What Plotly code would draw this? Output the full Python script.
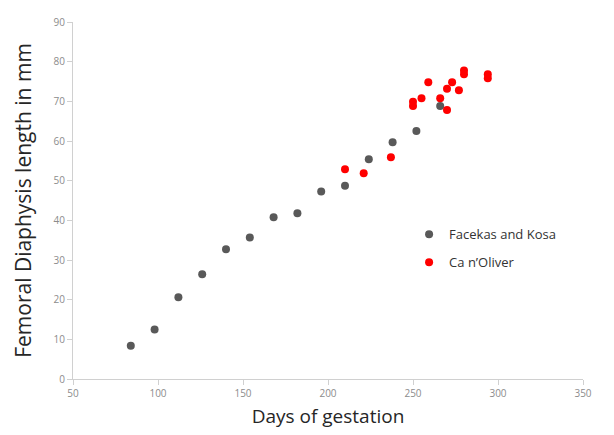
import plotly.graph_objects as go

# Facekas and Kosa (gray)
fk_days = [84, 98, 112, 126, 140, 154, 168, 182, 196, 210, 224, 238, 252, 266]
fk_len = [8.4, 12.5, 20.6, 26.4, 32.7, 35.7, 40.8, 41.8, 47.3, 48.7, 55.4, 59.7, 62.5, 68.8]

# Ca n'Oliver (red)
co_days = [210, 221, 237, 250, 250, 255, 259, 266, 270, 270, 273, 277, 280, 280, 294, 294]
co_len = [52.9, 51.9, 55.9, 68.8, 69.9, 70.8, 74.8, 70.8, 73.2, 67.8, 74.8, 72.8, 77.8, 76.8, 76.8, 75.8]

x_ticks = [50, 100, 150, 200, 250, 300, 350]
y_ticks = [0, 10, 20, 30, 40, 50, 60, 70, 80, 90]

fig = go.Figure()
fig.add_trace(go.Scatter(x=fk_days, y=fk_len, mode="markers", name="Facekas and Kosa",
                         legendgroup="a", marker=dict(color="#595959", size=8)))
fig.add_trace(go.Scatter(x=co_days, y=co_len, mode="markers", name="Ca n\u2019Oliver",
                         legendgroup="b", marker=dict(color="#ff0000", size=8)))

fig.update_layout(
    width=614, height=435,
    margin=dict(l=73, r=31, t=22, b=56),
    paper_bgcolor="white", plot_bgcolor="white",
    font=dict(family="Open Sans", color="#262626"),
    showlegend=True,
    legend=dict(x=0.659, y=0.447, xanchor="left", yanchor="top",
                font=dict(size=13, color="#333333"), bgcolor="rgba(0,0,0,0)",
                itemwidth=30, tracegroupgap=8),
    xaxis=dict(range=[50, 350], tickvals=x_ticks, showgrid=False, zeroline=False,
               showline=True, linecolor="#d0d0d0", linewidth=1,
               ticks="outside", ticklen=5, tickcolor="#d0d0d0",
               tickfont=dict(size=10, color="#8c8c8c"),
               title=dict(text="Days of gestation", font=dict(size=19, color="#262626"), standoff=10)),
    yaxis=dict(range=[0, 90], tickvals=y_ticks, showgrid=False, zeroline=False,
               showline=True, linecolor="#d0d0d0", linewidth=1,
               ticks="outside", ticklen=5, tickcolor="#d0d0d0",
               tickfont=dict(size=10, color="#8c8c8c"),
               title=dict(text="Femoral Diaphysis length in mm", font=dict(size=21, color="#262626"), standoff=16)),
)

fig.write_html("out.html")
